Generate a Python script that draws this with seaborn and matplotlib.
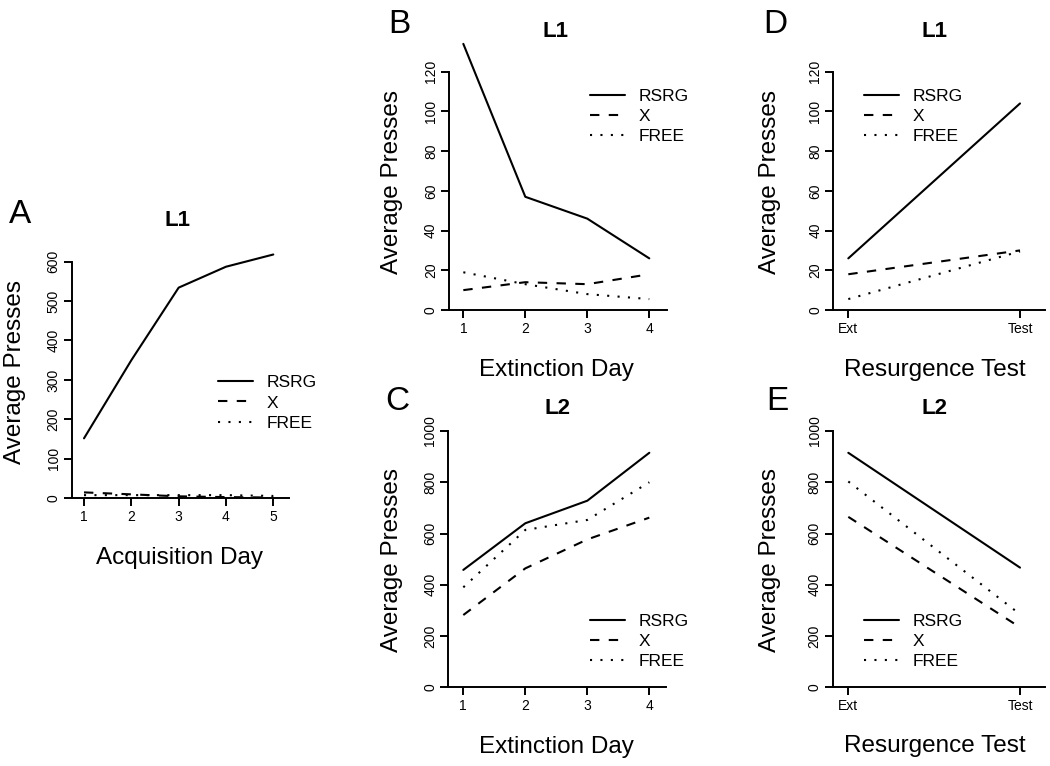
import numpy as np
import pandas as pd
import matplotlib
matplotlib.use("Agg")
import matplotlib.pyplot as plt
import seaborn as sns

# ---------------- data ----------------
groups = ["RSRG", "X", "FREE"]

acq_days = [1, 2, 3, 4, 5]
acq_rsrg = [152, 350, 534, 587, 618]
acq_x = [15, 10, 5, 3, 2]
acq_free = [8, 8, 8, 8, 6]

ext_days = [1, 2, 3, 4]
ext_l1_rsrg = [134, 57, 46, 26]
ext_l1_x = [10, 14, 13, 18]
ext_l1_free = [19, 13, 8, 5.5]

ext_l2_rsrg = [458, 640, 728, 915]
ext_l2_x = [282, 464, 577, 662]
ext_l2_free = [390, 614, 653, 800]

res_phase = ["Ext", "Test"]
res_l1_rsrg = [26, 104]
res_l1_x = [18, 30]
res_l1_free = [5.5, 29.5]

res_l2_rsrg = [915, 467]
res_l2_x = [665, 234]
res_l2_free = [803, 285]

acq_yticks = [0, 100, 200, 300, 400, 500, 600]
l1_yticks = [0, 20, 40, 60, 80, 100, 120]
l2_yticks = [0, 200, 400, 600, 800, 1000]


def long_df(xs, rsrg, x, free):
    rows = []
    for g, vals in zip(groups, [rsrg, x, free]):
        for xv, yv in zip(xs, vals):
            rows.append({"x": xv, "y": yv, "group": g})
    return pd.DataFrame(rows)


# ---------------- style ----------------
sns.set_style("ticks")
plt.rcParams["font.family"] = ["Liberation Sans", "DejaVu Sans"]
plt.rcParams["axes.linewidth"] = 1.4
plt.rcParams["text.color"] = "black"
plt.rcParams["axes.labelcolor"] = "black"
plt.rcParams["xtick.color"] = "black"
plt.rcParams["ytick.color"] = "black"
plt.rcParams["axes.edgecolor"] = "black"

W, H = 1050, 766
fig = plt.figure(figsize=(W / 100, H / 100), dpi=100)


def fx(px):
    return px / W


def fy(py):
    return 1 - py / H


dash_map = {"RSRG": "", "X": (4.5, 4.5), "FREE": (1, 4)}


def panel(box, xlim, ylim, df, xticks, xticklabels, yticks, legend_anchor):
    left, right, bottom, top = box
    ax = fig.add_axes([fx(left), fy(bottom), (right - left) / W, (bottom - top) / H])
    sns.lineplot(data=df, x="x", y="y", style="group", style_order=groups,
                 dashes=dash_map, color="black", linewidth=1.5, legend=False,
                 sort=False, ax=ax)
    ax.set_xlim(*xlim)
    ax.set_ylim(*ylim)
    ax.set_xticks(xticks)
    ax.set_xticklabels(xticklabels)
    ax.set_yticks(yticks)
    ax.set_yticklabels([str(t) for t in yticks])
    ax.set_xlabel("")
    ax.set_ylabel("")
    for s in ["top", "right"]:
        ax.spines[s].set_visible(False)
    ax.spines["left"].set_bounds(yticks[0], yticks[-1])
    ax.tick_params(axis="both", length=5.5, width=1.4, labelsize=10, pad=3,
                   color="black", labelcolor="black")
    ax.tick_params(axis="y", labelrotation=90, pad=2.5)
    for lab in ax.get_yticklabels():
        lab.set_va("center")
    handles = ax.get_lines()[:3]
    fig.legend(handles=handles, labels=groups, loc="center left",
               bbox_to_anchor=(fx(legend_anchor[0]), fy(legend_anchor[1])),
               frameon=False, fontsize=12.5, handlelength=2.0,
               handletextpad=0.8, labelspacing=0.3, borderpad=0,
               borderaxespad=0, labelcolor="black")
    return ax


# Panel A
panel((71.7, 289.3, 498.3, 250), (0.74, 5.338), (0, 629.4),
      long_df(acq_days, acq_rsrg, acq_x, acq_free),
      acq_days, [str(d) for d in acq_days], acq_yticks, (218, 403))
# Panel B
panel((449, 666.7, 310, 40), (0.769, 4.281), (0, 135.95),
      long_df(ext_days, ext_l1_rsrg, ext_l1_x, ext_l1_free),
      ext_days, [str(d) for d in ext_days], l1_yticks, (590, 116.5))
# Panel C
panel((448.3, 666, 687.3, 425), (0.758, 4.269), (0, 1023.4),
      long_df(ext_days, ext_l2_rsrg, ext_l2_x, ext_l2_free),
      ext_days, [str(d) for d in ext_days], l2_yticks, (590, 641.5))
# Panel D
panel((833.3, 1045, 310, 40), (-0.0874, 1.1456), (0, 135.95),
      long_df(res_phase, res_l1_rsrg, res_l1_x, res_l1_free),
      [0, 1], res_phase, l1_yticks, (864, 116.5))
# Panel E
panel((832.7, 1045, 687.3, 425), (-0.0909, 1.1456), (0, 1023.4),
      long_df(res_phase, res_l2_rsrg, res_l2_x, res_l2_free),
      [0, 1], res_phase, l2_yticks, (864, 641.5))

# panel letters
for letter, (px, py) in {"A": (20.5, 223), "B": (399, 33), "C": (397, 410),
                         "D": (775, 33), "E": (777, 410)}.items():
    fig.text(fx(px), fy(py), letter, fontsize=24, ha="center", va="baseline",
             color="black")

# titles
for t, (px, py) in [("L1", (177.5, 226)), ("L1", (556, 37)), ("L2", (557, 414)),
                    ("L1", (934.5, 37)), ("L2", (935, 414))]:
    fig.text(fx(px), fy(py), t, fontsize=16, fontweight="bold", ha="center",
             va="baseline", color="black")

# x labels
for t, (px, py) in [("Acquisition Day", (179, 564)), ("Extinction Day", (556.7, 376)),
                    ("Extinction Day", (556.7, 753)), ("Resurgence Test", (935, 376)),
                    ("Resurgence Test", (935, 752))]:
    fig.text(fx(px), fy(py), t, fontsize=17.5, ha="center", va="baseline",
             color="black")

# y labels
for px, py in [(15, 372), (392, 182.5), (392, 560), (770, 182), (770, 560)]:
    fig.text(fx(px), fy(py), "Average Presses", fontsize=17.5, rotation=90,
             ha="center", va="center", color="black")

fig.savefig("out.png", dpi=100)
